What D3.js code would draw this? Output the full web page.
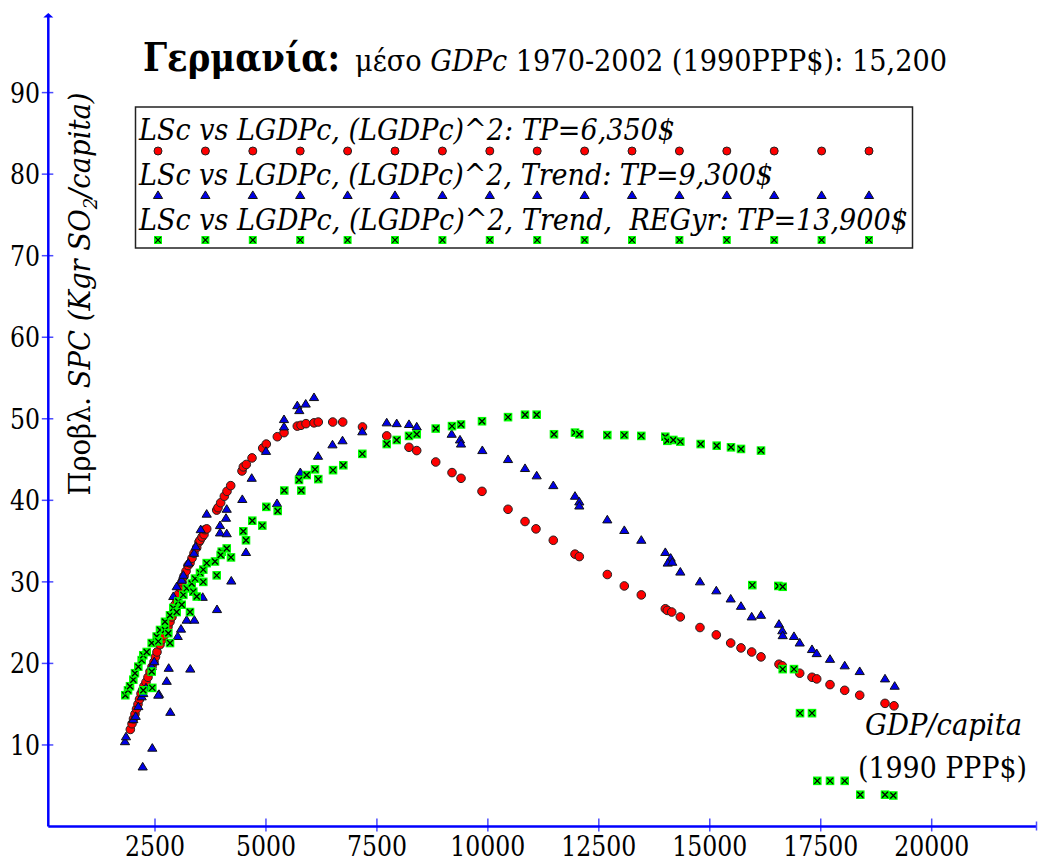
<!DOCTYPE html>
<html>
<head>
<meta charset="utf-8">
<script src="https://cdn.jsdelivr.net/npm/d3@7"></script>
</head>
<body style="margin:0">
<svg id="chart" width="1038" height="862"></svg>
<script>
// Model 1: LSc vs LGDPc, (LGDPc)^2
const gdpQuad = [1944,1982,2016,2049,2083,2117,2151,2185,2218,2252,2297,2342,2387,2433,2478,2511,2545,2613,2658,2703,2748,2793,2838,2883,2917,2951,2996,3030,3063,3108,3154,3199,3244,3289,3334,3379,3440,3491,3514,3559,3604,3627,3665,3890,3920,3980,4062,4122,4206,4460,4490,4557,4686,4927,5008,5256,5407,5706,5790,5902,6083,6179,6504,6729,7175,7721,8223,8397,8825,9192,9395,9868,10454,10837,11084,11474,11963,12060,12691,13074,13457,13998,14043,14142,14336,14779,15147,15471,15703,15944,16154,16559,16634,17026,17303,17409,17709,18040,18378,18948,19151];
const spcQuad = [11.9,12.6,13.2,13.8,14.4,15.0,15.6,16.3,16.7,17.2,17.7,18.3,19.0,19.6,20.2,20.8,21.4,22.3,22.9,23.4,24.0,24.5,25.1,25.7,26.3,27.2,27.8,28.5,29.3,30.0,30.7,31.3,32.0,32.3,32.9,33.5,34.2,34.9,35.1,35.5,35.8,36.4,36.5,38.8,39.1,39.7,40.5,41.1,41.8,43.6,44.1,44.4,45.2,46.4,46.9,47.8,48.3,49.1,49.2,49.4,49.5,49.6,49.6,49.6,49.0,47.9,46.5,46.1,44.7,43.4,42.7,41.1,38.9,37.4,36.5,35.1,33.4,33.1,30.9,29.5,28.4,26.7,26.5,26.3,25.7,24.4,23.5,22.5,21.9,21.4,20.8,19.9,19.7,18.8,18.3,18.1,17.4,16.7,16.1,15.1,14.8];

// Model 2: with Trend
const gdpTrend = [1824,1847,2011,2065,2124,2200,2236,2297,2426,2484,2223,2439,2845,2590,2574,2764,2809,3295,3012,3086,3214,3386,3575,3897,2912,2989,3102,3138,3250,3379,3417,3530,3665,4219,4550,3965,4116,3965,4100,4116,4467,4679,5001,5249,5407,5407,5706,5751,5896,6083,6173,6499,6725,5774,7171,7721,7946,8223,8397,9185,9372,9395,9875,10454,10837,11100,11474,11963,12060,12060,12691,13074,13457,13998,14119,14052,14155,14336,14779,15147,15471,15703,15944,16154,16559,16634,16643,16897,17026,17303,17409,17709,18040,18378,18948,19166];
const spcTrend = [10.4,11.0,13.1,13.5,14.7,15.9,16.3,17.0,19.6,20.2,7.3,9.6,14.0,16.2,16.1,17.8,19.4,19.3,23.3,24.2,25.3,25.3,28.1,26.6,28.2,29.4,30.2,30.8,32.3,33.5,34.3,36.4,38.3,30.1,33.6,36.0,35.9,36.9,37.8,38.9,40.1,42.7,46.0,39.6,49.9,49.0,51.6,51.0,51.8,52.6,45.4,46.8,47.3,43.4,48.4,49.5,49.4,49.3,49.0,48.1,47.4,46.9,46.1,45.0,43.9,43.0,41.8,40.5,39.8,39.3,37.6,36.3,35.1,33.6,32.9,32.3,32.4,31.2,30.0,28.9,27.9,27.0,25.7,25.9,24.8,24.0,23.4,23.3,22.5,21.7,21.2,20.5,19.7,19.0,18.1,17.2];

// Model 3: with Trend and REGyr
const gdpReg = [1831,1892,1937,2011,2049,2124,2200,2236,2313,2426,2538,2613,2725,2838,2912,3025,3138,3214,3327,3401,3514,3588,3665,3852,3890,3588,3289,2838,2426,2236,2439,2725,2800,2989,2574,3102,3363,3440,4003,3980,4116,4212,4490,4550,4692,4918,5008,5265,5413,5745,5796,5918,6105,6179,6511,6743,7171,7721,7946,8223,8397,8825,9192,9395,9868,10454,10837,11100,11490,11963,12060,12691,13074,13457,13998,14043,14178,14336,14795,15156,15478,15703,16154,15958,16544,16643,16643,16897,17033,17303,17422,17709,18040,18391,18948,19135];
const spcReg = [16.1,16.7,17.2,18.0,18.8,19.6,20.4,21.0,21.4,22.5,23.3,24.1,25.1,25.9,26.8,27.6,28.4,29.2,29.8,30.4,31.1,31.5,32.3,32.5,30.8,30.0,26.3,22.5,19.0,16.7,17.0,24.1,23.7,26.3,22.7,27.2,28.8,28.2,33.7,33.3,34.1,33.0,36.2,35.1,37.5,36.9,39.2,38.7,41.2,42.5,41.2,43.1,43.8,42.6,43.7,44.3,45.7,46.9,47.4,47.9,48.1,48.8,49.1,49.3,49.7,50.2,50.5,50.5,48.1,48.3,48.1,48.0,48.0,47.9,47.8,47.3,47.4,47.2,46.9,46.7,46.5,46.3,46.1,29.6,29.5,29.4,19.3,19.3,13.9,13.9,5.6,5.6,5.6,3.9,3.9,3.8];

const xTicks = [2500, 5000, 7500, 10000, 12500, 15000, 17500, 20000];
const yTicks = [10, 20, 30, 40, 50, 60, 70, 80, 90];
const legendLabels = [
  "LSc vs LGDPc, (LGDPc)^2: TP=6,350$",
  "LSc vs LGDPc, (LGDPc)^2, Trend: TP=9,300$",
  "LSc vs LGDPc, (LGDPc)^2, Trend,\u00a0 REGyr: TP=13,900$"
];

const FONT = "DejaVu Serif";
const svg = d3.select("#chart");
const x = d3.scaleLinear().domain([0, 20000]).range([44.04, 931.7]);
const y = d3.scaleLinear().domain([0, 90]).range([826.5, 92.6]);

const axisBlue = "#0000ff";
const tickBlue = "#4b4bff";
const axisX0 = 48.3, axisY0 = 826.5;

// text helper: each label carries its own font settings and an optional fitted width
function label(parent, px, py, str, size, opts = {}) {
  const t = parent.append("text").attr("x", px).attr("y", py)
    .attr("font-family", FONT).attr("font-size", size);
  if (opts.italic) t.attr("font-style", "italic");
  if (opts.bold) t.attr("font-weight", "bold");
  if (opts.anchor) t.attr("text-anchor", opts.anchor);
  if (opts.width) t.attr("textLength", opts.width).attr("lengthAdjust", "spacingAndGlyphs");
  if (str !== null) t.text(str);
  return t;
}

// ---- axes ----
const axes = svg.append("g");
axes.selectAll("line.xt").data(xTicks).join("line").attr("class", "xt")
  .attr("x1", d => x(d)).attr("x2", d => x(d)).attr("y1", axisY0 - 8).attr("y2", axisY0 + 5)
  .attr("stroke", tickBlue).attr("stroke-width", 1.5);
xTicks.forEach(d => label(axes, x(d), 856, String(d), 27,
  { anchor: "middle", width: String(d).length * 15 }));

axes.selectAll("line.yt").data(yTicks).join("line").attr("class", "yt")
  .attr("x1", axisX0 - 6.5).attr("x2", axisX0 + 5).attr("y1", d => y(d)).attr("y2", d => y(d))
  .attr("stroke", tickBlue).attr("stroke-width", 1.5);
yTicks.forEach(d => label(axes, 40, y(d) + 10, String(d), 27,
  { anchor: "end", width: String(d).length * 15 }));

axes.append("line").attr("x1", axisX0).attr("x2", 1037).attr("y1", axisY0).attr("y2", axisY0)
  .attr("stroke", axisBlue).attr("stroke-width", 2.5);
axes.append("line").attr("x1", 1036.5).attr("x2", 1036.5).attr("y1", axisY0 - 5).attr("y2", axisY0 + 4)
  .attr("stroke", tickBlue).attr("stroke-width", 1.5);
axes.append("line").attr("x1", axisX0).attr("x2", axisX0).attr("y1", axisY0).attr("y2", 16)
  .attr("stroke", axisBlue).attr("stroke-width", 2.5);
axes.append("path").attr("d", `M${axisX0 - 5},17.5 L${axisX0},13 L${axisX0 + 5},17.5 Z`).attr("fill", axisBlue);

// ---- marker shapes ----
const triPath = "M0,-4.6 L4.6,3 L-4.6,3 Z";
function drawCircles(g, xs, ys) {
  g.selectAll("circle").data(xs.map((d, i) => [d, ys[i]])).join("circle")
    .attr("cx", d => x(d[0])).attr("cy", d => y(d[1])).attr("r", 4.3)
    .attr("fill", "#ff0000").attr("stroke", "#222").attr("stroke-width", 1);
}
function drawTriangles(g, xs, ys) {
  g.selectAll("path").data(xs.map((d, i) => [d, ys[i]])).join("path")
    .attr("d", triPath).attr("transform", d => `translate(${x(d[0])},${y(d[1])})`)
    .attr("fill", "#0000e6").attr("stroke", "#111").attr("stroke-width", 1);
}
function drawCrossSquares(g, xs, ys) {
  const s = g.selectAll("g").data(xs.map((d, i) => [d, ys[i]])).join("g")
    .attr("transform", d => `translate(${x(d[0])},${y(d[1])})`);
  s.append("rect").attr("x", -4.3).attr("y", -4.3).attr("width", 8.6).attr("height", 8.6).attr("fill", "#00ff00");
  s.append("path").attr("d", "M-3,-3 L3,3 M-3,3 L3,-3").attr("stroke", "#000").attr("stroke-width", 1.3);
}

drawCircles(svg.append("g"), gdpQuad, spcQuad);
drawTriangles(svg.append("g"), gdpTrend, spcTrend);
drawCrossSquares(svg.append("g"), gdpReg, spcReg);

// ---- legend ----
const legend = svg.append("g");
legend.append("rect").attr("x", 135.5).attr("y", 107).attr("width", 777).attr("height", 141)
  .attr("fill", "#fff").attr("stroke", "#222").attr("stroke-width", 1.5);
const rowBase = [140, 185, 230];
const rowWidth = [536, 634, 769];
const markerY = [151, 195.5, 240];
const markerX = d3.range(16).map(i => 158 + i * 47.4);
legendLabels.forEach((lab, i) => label(legend, 139, rowBase[i], lab, 29, { italic: true, width: rowWidth[i] }));
legend.append("g").selectAll("circle").data(markerX).join("circle").attr("cx", d => d).attr("cy", markerY[0]).attr("r", 4)
  .attr("fill", "#ff0000").attr("stroke", "#222").attr("stroke-width", 1);
legend.append("g").selectAll("path").data(markerX).join("path").attr("d", triPath)
  .attr("transform", d => `translate(${d},${markerY[1]})`)
  .attr("fill", "#0000e6").attr("stroke", "#111").attr("stroke-width", 1);
const ls = legend.append("g").selectAll("g").data(markerX).join("g")
  .attr("transform", d => `translate(${d},${markerY[2]})`);
ls.append("rect").attr("x", -4).attr("y", -4).attr("width", 8).attr("height", 8).attr("fill", "#00ff00");
ls.append("path").attr("d", "M-2.8,-2.8 L2.8,2.8 M-2.8,2.8 L2.8,-2.8").attr("stroke", "#000").attr("stroke-width", 1.2);

// ---- title ----
label(svg, 143, 71, "Γερμανία:", 40, { bold: true, width: 197 });
const sub = label(svg, 355, 71, null, 29, { width: 592 });
sub.append("tspan").text("μέσο\u00a0");
sub.append("tspan").attr("font-style", "italic").text("GDPc");
sub.append("tspan").text("\u00a01970-2002 (1990PPP$): 15,200");

// ---- axis titles ----
const yl = label(svg, 0, 0, null, 29, { anchor: "middle", width: 403 })
  .attr("transform", "translate(90,294) rotate(-90)");
yl.append("tspan").text("Προβλ.\u00a0");
yl.append("tspan").attr("font-style", "italic").text("SPC (Kgr SO");
yl.append("tspan").attr("font-style", "italic").attr("font-size", 19).attr("dy", 7).text("2");
yl.append("tspan").attr("font-style", "italic").attr("dy", -7).text("/capita)");

label(svg, 1022, 735, "GDP/capita", 29, { italic: true, anchor: "end", width: 157 });
label(svg, 1027, 778, "(1990 PPP$)", 29, { anchor: "end", width: 169 });
</script>
</body>
</html>
